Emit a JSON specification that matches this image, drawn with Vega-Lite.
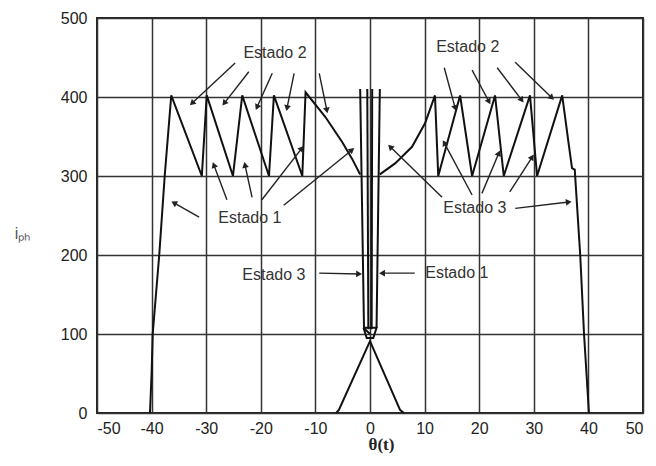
{
  "$schema": "https://vega.github.io/schema/vega-lite/v6.json",
  "width": 546,
  "height": 395,
  "autosize": "none",
  "padding": {"left": 97, "top": 18, "right": 13, "bottom": 53},
  "background": "white",
  "config": {
    "view": {"stroke": "#222", "strokeWidth": 2},
    "axis": {"labelFont": "Liberation Sans", "labelFontSize": 16, "labelColor": "#222", "gridColor": "#333", "gridWidth": 1.5, "gridOpacity": 1, "ticks": false, "domain": false}
  },
  "datasets": {
    "wave": [
      {"s": "L", "i": 1, "x": -40.3, "y": 0}, {"s": "L", "i": 2, "x": -40.0, "y": 50}, {"s": "L", "i": 3, "x": -39.8, "y": 100},
      {"s": "L", "i": 4, "x": -38.6, "y": 200}, {"s": "L", "i": 5, "x": -37.6, "y": 300}, {"s": "L", "i": 6, "x": -36.4, "y": 402},
      {"s": "L", "i": 7, "x": -30.8, "y": 300}, {"s": "L", "i": 8, "x": -29.9, "y": 402}, {"s": "L", "i": 9, "x": -25.1, "y": 300},
      {"s": "L", "i": 10, "x": -23.4, "y": 402}, {"s": "L", "i": 11, "x": -18.5, "y": 300}, {"s": "L", "i": 12, "x": -17.6, "y": 402},
      {"s": "L", "i": 13, "x": -12.4, "y": 300}, {"s": "L", "i": 14, "x": -11.8, "y": 406}, {"s": "L", "i": 15, "x": -8.2, "y": 375},
      {"s": "L", "i": 16, "x": -5.1, "y": 343}, {"s": "L", "i": 17, "x": -3.3, "y": 322}, {"s": "L", "i": 18, "x": -1.8, "y": 302},
      {"s": "c1", "i": 1, "x": -1.8, "y": 410}, {"s": "c1", "i": 2, "x": -1.1, "y": 108},
      {"s": "c2", "i": 1, "x": -0.5, "y": 410}, {"s": "c2", "i": 2, "x": -0.3, "y": 106},
      {"s": "c3", "i": 1, "x": 0.4, "y": 410}, {"s": "c3", "i": 2, "x": 0.3, "y": 106},
      {"s": "c4", "i": 1, "x": 1.8, "y": 410}, {"s": "c4", "i": 2, "x": 1.2, "y": 108},
      {"s": "B", "i": 1, "x": -1.2, "y": 108}, {"s": "B", "i": 2, "x": 1.2, "y": 108}, {"s": "B", "i": 3, "x": 0.6, "y": 95},
      {"s": "B", "i": 4, "x": -0.6, "y": 95}, {"s": "B", "i": 5, "x": -1.2, "y": 108}, {"s": "B", "i": 6, "x": 0, "y": 100},
      {"s": "T", "i": 1, "x": -6.2, "y": 0}, {"s": "T", "i": 2, "x": -5.7, "y": 4}, {"s": "T", "i": 3, "x": 0, "y": 91},
      {"s": "T", "i": 4, "x": 5.5, "y": 4}, {"s": "T", "i": 5, "x": 6.2, "y": 0},
      {"s": "R", "i": 1, "x": 1.8, "y": 302}, {"s": "R", "i": 2, "x": 4.6, "y": 316}, {"s": "R", "i": 3, "x": 7.7, "y": 337},
      {"s": "R", "i": 4, "x": 10.1, "y": 367}, {"s": "R", "i": 5, "x": 11.9, "y": 402}, {"s": "R", "i": 6, "x": 12.5, "y": 300},
      {"s": "R", "i": 7, "x": 16.5, "y": 402}, {"s": "R", "i": 8, "x": 18.7, "y": 300}, {"s": "R", "i": 9, "x": 22.9, "y": 402},
      {"s": "R", "i": 10, "x": 24.5, "y": 300}, {"s": "R", "i": 11, "x": 29.3, "y": 402}, {"s": "R", "i": 12, "x": 30.6, "y": 300},
      {"s": "R", "i": 13, "x": 35.2, "y": 402}, {"s": "R", "i": 14, "x": 36.4, "y": 340}, {"s": "R", "i": 15, "x": 37.0, "y": 310},
      {"s": "R", "i": 16, "x": 37.5, "y": 308}, {"s": "R", "i": 17, "x": 38.5, "y": 200}, {"s": "R", "i": 18, "x": 39.2, "y": 100},
      {"s": "R", "i": 19, "x": 40.1, "y": 0}
    ],
    "arrows": [
      {"x1": -24.7, "y1": 443, "x2": -32.6, "y2": 392},
      {"x1": -22.2, "y1": 432, "x2": -26.7, "y2": 392},
      {"x1": -17.9, "y1": 430, "x2": -20.7, "y2": 387},
      {"x1": -13.9, "y1": 430, "x2": -15.2, "y2": 386},
      {"x1": -9.3, "y1": 430, "x2": -7.9, "y2": 383},
      {"x1": -31.3, "y1": 248, "x2": -35.9, "y2": 266},
      {"x1": -26.2, "y1": 270, "x2": -28.6, "y2": 314},
      {"x1": -21.6, "y1": 273, "x2": -22.9, "y2": 314},
      {"x1": -19.8, "y1": 270, "x2": -12.5, "y2": 335},
      {"x1": -15.8, "y1": 263, "x2": -3.3, "y2": 333},
      {"x1": 13.6, "y1": 437, "x2": 15.6, "y2": 386},
      {"x1": 18.7, "y1": 434, "x2": 21.8, "y2": 394},
      {"x1": 23.3, "y1": 437, "x2": 27.8, "y2": 396},
      {"x1": 26.6, "y1": 444, "x2": 33.3, "y2": 399},
      {"x1": 13.2, "y1": 273, "x2": 3.7, "y2": 337},
      {"x1": 18.7, "y1": 276, "x2": 13.6, "y2": 342},
      {"x1": 20.5, "y1": 278, "x2": 23.6, "y2": 329},
      {"x1": 25.6, "y1": 280, "x2": 29.7, "y2": 324},
      {"x1": 26.6, "y1": 259, "x2": 36.4, "y2": 267},
      {"x1": -9.3, "y1": 177, "x2": -2.0, "y2": 176},
      {"x1": 8.2, "y1": 177, "x2": 2.2, "y2": 177}
    ],
    "labels": [
      {"x": -17.4, "y": 456, "t": "Estado 2"},
      {"x": 17.9, "y": 463, "t": "Estado 2"},
      {"x": -22.0, "y": 247, "t": "Estado 1"},
      {"x": 19.2, "y": 259, "t": "Estado 3"},
      {"x": -17.6, "y": 175, "t": "Estado 3"},
      {"x": 15.9, "y": 177, "t": "Estado 1"}
    ]
  },
  "layer": [
    {
      "data": {"name": "labels"},
      "mark": {"type": "text", "font": "Liberation Sans", "fontSize": 16, "color": "#333", "align": "center", "baseline": "middle"},
      "encoding": {
        "x": {"field": "x", "type": "quantitative", "scale": {"domain": [-50, 50], "nice": false}, "axis": {"values": [-50, -40, -30, -20, -10, 0, 10, 20, 30, 40, 50], "labelExpr": "'' + datum.value", "labelPadding": 7, "title": "θ(t)", "titleFont": "Liberation Serif", "titleFontSize": 17, "titleFontWeight": "bold", "titleColor": "#222", "titlePadding": 0, "titleX": 284}},
        "y": {"field": "y", "type": "quantitative", "scale": {"domain": [0, 500], "nice": false}, "axis": {"values": [0, 100, 200, 300, 400, 500], "labelPadding": 10, "title": "iₚₕ", "titleAngle": 0, "titleX": -75, "titleY": 215, "titleAlign": "center", "titleBaseline": "middle", "titleFont": "Liberation Sans", "titleFontSize": 16, "titleFontWeight": "normal", "titleColor": "#555"}},
        "text": {"field": "t"}
      }
    },
    {
      "data": {"name": "wave"},
      "mark": {"type": "line", "color": "#111", "strokeWidth": 2},
      "encoding": {
        "x": {"field": "x", "type": "quantitative"},
        "y": {"field": "y", "type": "quantitative"},
        "detail": {"field": "s"},
        "order": {"field": "i", "type": "quantitative"}
      }
    },
    {
      "data": {"name": "arrows"},
      "mark": {"type": "rule", "color": "#222", "strokeWidth": 1.4},
      "encoding": {
        "x": {"field": "x1", "type": "quantitative"},
        "y": {"field": "y1", "type": "quantitative"},
        "x2": {"field": "x2"},
        "y2": {"field": "y2"}
      }
    },
    {
      "data": {"name": "arrows"},
      "transform": [{"calculate": "atan2((datum.x2 - datum.x1) * 5.46, (datum.y2 - datum.y1) * 0.79) * 180 / PI", "as": "ang"}],
      "mark": {"type": "point", "shape": "triangle-up", "filled": true, "color": "#222", "size": 45, "opacity": 1},
      "encoding": {
        "x": {"field": "x2", "type": "quantitative"},
        "y": {"field": "y2", "type": "quantitative"},
        "angle": {"field": "ang", "type": "quantitative", "scale": null}
      }
    }
  ]
}
